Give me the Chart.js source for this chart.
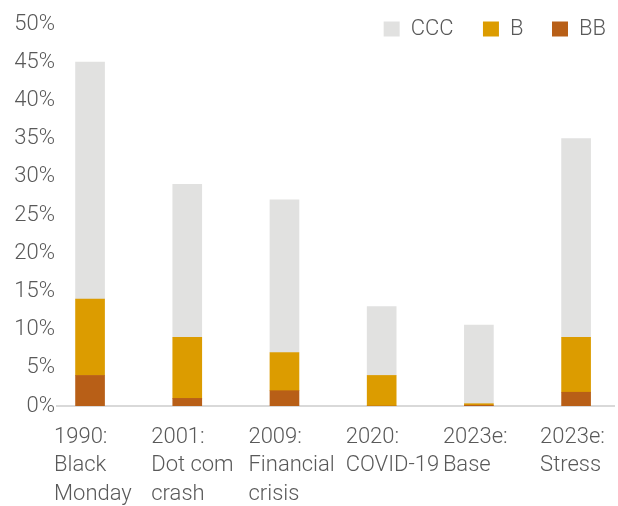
<!DOCTYPE html>
<html>
<head>
<meta charset="utf-8">
<script src="https://cdn.jsdelivr.net/npm/chart.js@4.4.0/dist/chart.umd.min.js"></script>
<style>
  html, body { margin: 0; padding: 0; background: #fff; overflow: hidden; }
</style>
</head>
<body>
<canvas id="chart" width="618" height="506"></canvas>
<script>
// categories (wrapped x labels)
const categories = [
  ['1990:', 'Black', 'Monday'],
  ['2001:', 'Dot com', 'crash'],
  ['2009:', 'Financial', 'crisis'],
  ['2020:', 'COVID-19'],
  ['2023e:', 'Base'],
  ['2023e:', 'Stress']
];

// default rates by rating, % (stacked: BB bottom, B middle, CCC top)
const bbValues = [4, 1, 2, 0, 0.1, 1.8];
const bValues = [10, 8, 5, 4, 0.2, 7.2];
const cccValues = [31, 20, 20, 9, 10.3, 26];

const Y_MAX = 50;
const Y_STEP = 5;

const TEXT = '#595959';
const FONT = { family: 'Roboto', size: 22, weight: 300, lineHeight: 1.3 };

// trailing room after legend entries (Chart.js uses one padding for both directions)
const legendGap = { CCC: '    ', B: '   \u2009', BB: '' };

function toPoints(values) {
  return values.map((v, i) => ({ x: i, y: v }));
}

// legend sits over the top of the plot: it reserves little height,
// but its clip box is opened up again after layout
const legendOverlay = {
  id: 'legendOverlay',
  afterInit(chart) {
    const legend = chart.legend;
    if (!legend || legend._fitPatched) return;
    const fit = legend.fit;
    legend.fit = function () {
      fit.call(this);
      this.height = 14;
    };
    legend._fitPatched = true;
  },
  afterLayout(chart) {
    const legend = chart.legend;
    if (!legend) return;
    legend.bottom = legend.top + 50;
  }
};

new Chart(document.getElementById('chart'), {
  type: 'bar',
  data: {
    datasets: [
      { label: 'BB', data: toPoints(bbValues), backgroundColor: '#B85F17' },
      { label: 'B', data: toPoints(bValues), backgroundColor: '#DC9C00' },
      { label: 'CCC', data: toPoints(cccValues), backgroundColor: '#E1E1E0' }
    ]
  },
  options: {
    responsive: false,
    animation: false,
    layout: { padding: { top: 10, right: 4, left: 0, bottom: 0 } },
    datasets: {
      bar: { barThickness: 29, borderWidth: 0 }
    },
    scales: {
      x: {
        type: 'linear',
        stacked: true,
        offset: false,
        bounds: 'data',
        min: -0.34,
        max: 5.39,
        grid: { display: false, drawTicks: false, offset: false },
        border: { display: true, color: '#D9D9D9', width: 2 },
        afterBuildTicks: (s) => {
          s.ticks = categories.map((_, i) => ({ value: i }));
        },
        afterFit: (s) => {
          s.height = 100;
          s.paddingLeft = 0;
          s.paddingRight = 0;
        },
        ticks: {
          autoSkip: false,
          maxRotation: 0,
          align: 'start',
          labelOffset: -36,
          padding: 17,
          color: TEXT,
          font: FONT,
          callback: (v) => categories[v] || ''
        }
      },
      y: {
        stacked: true,
        min: 0,
        max: Y_MAX,
        grid: { display: false, drawTicks: false },
        border: { display: false },
        afterFit: (s) => { s.width = 57; },
        ticks: {
          stepSize: Y_STEP,
          padding: 2,
          color: TEXT,
          font: FONT,
          callback: (v) => v + '%'
        }
      }
    },
    plugins: {
      legend: {
        position: 'top',
        align: 'end',
        reverse: true,
        labels: {
          boxWidth: 16,
          boxHeight: 15,
          padding: 8,
          color: TEXT,
          font: FONT,
          generateLabels: (chart) => {
            const items = Chart.defaults.plugins.legend.labels.generateLabels(chart);
            return items.map((it) => {
              it.text = it.text + (legendGap[it.text] || '');
              it.lineWidth = 0;
              return it;
            });
          }
        }
      },
      tooltip: { enabled: false }
    }
  },
  plugins: [legendOverlay]
});
</script>
</body>
</html>
